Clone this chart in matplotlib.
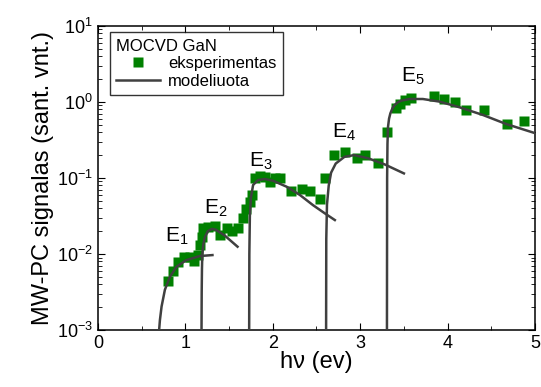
import matplotlib
matplotlib.use("Agg")
import matplotlib.pyplot as plt

plt.rcParams["font.family"] = ["Liberation Sans", "DejaVu Sans"]
plt.rcParams["mathtext.default"] = "regular"

# experimental points (eV, signal)
exp_x = [0.803, 0.861, 0.918, 0.986, 1.051, 1.10, 1.146, 1.166, 1.185, 1.203, 1.261, 1.337,
         1.394, 1.471, 1.528, 1.603, 1.654, 1.691, 1.737, 1.757, 1.80, 1.851, 1.909, 1.966,
         2.023, 2.088, 2.214, 2.339, 2.431, 2.537, 2.60, 2.70, 2.823, 2.963, 3.059, 3.203,
         3.306, 3.414, 3.459, 3.509, 3.585, 3.84, 3.954, 4.08, 4.206, 4.415, 4.682, 4.869]
exp_y = [0.00446, 0.0060, 0.0079, 0.00904, 0.0092, 0.0081, 0.0098, 0.0132, 0.017, 0.0219,
         0.0229, 0.0234, 0.0178, 0.0219, 0.0204, 0.0219, 0.0295, 0.0389, 0.049, 0.0603,
         0.100, 0.105, 0.102, 0.089, 0.100, 0.100, 0.0676, 0.0724, 0.0676, 0.0537,
         0.100, 0.20, 0.219, 0.186, 0.20, 0.158,
         0.407, 0.832, 0.933, 1.047, 1.122, 1.202, 1.096, 1.0, 0.776, 0.776, 0.513, 0.562]

# model curves
m1_x = [0.70, 0.709, 0.728, 0.766, 0.823, 0.899, 1.01, 1.166, 1.31]
m1_y = [0.001, 0.00135, 0.00204, 0.00339, 0.00501, 0.00681, 0.00832, 0.00942, 0.0097]
m2_x = [1.185, 1.187, 1.19, 1.194, 1.205, 1.223, 1.257, 1.303, 1.349, 1.451, 1.597]
m2_y = [0.001, 0.00316, 0.0063, 0.0098, 0.0132, 0.0166, 0.020, 0.0214, 0.0209, 0.0175, 0.0125]
m3_x = [1.73, 1.732, 1.738, 1.749, 1.775, 1.83, 1.909, 2.003, 2.157, 2.309, 2.46, 2.594, 2.71]
m3_y = [0.001, 0.01, 0.0316, 0.054, 0.081, 0.094, 0.097, 0.092, 0.077, 0.060, 0.044, 0.0344, 0.028]
m4_x = [2.61, 2.612, 2.62, 2.64, 2.667, 2.72, 2.82, 2.93, 3.09, 3.28, 3.50]
m4_y = [0.001, 0.0158, 0.0447, 0.0794, 0.1175, 0.155, 0.19, 0.20, 0.182, 0.151, 0.115]
m5_x = [3.306, 3.308, 3.312, 3.318, 3.33, 3.345, 3.37, 3.394, 3.43, 3.47, 3.566, 3.717,
        3.909, 4.137, 4.403, 4.67, 5.0]
m5_y = [0.001, 0.1, 0.282, 0.468, 0.603, 0.708, 0.832, 0.912, 0.989, 1.04, 1.094, 1.094,
        1.01, 0.851, 0.675, 0.513, 0.389]

labels = ["E$_1$", "E$_2$", "E$_3$", "E$_4$", "E$_5$"]
label_x = [0.897, 1.349, 1.863, 2.817, 3.606]
label_y = [0.0173, 0.0403, 0.1675, 0.403, 2.2]

fig = plt.figure(figsize=(5.41, 3.87), dpi=100)
ax = fig.add_axes([0.181, 0.147, 0.808, 0.786])

line_col = "#404040"
first = True
for mx, my in [(m1_x, m1_y), (m2_x, m2_y), (m3_x, m3_y), (m4_x, m4_y), (m5_x, m5_y)]:
    ax.plot(mx, my, color=line_col, lw=1.8, label="modeliuota" if first else None, zorder=3)
    first = False
ax.plot(exp_x, exp_y, "s", color="#008000", ms=7, mec="none", label="eksperimentas", zorder=2)

for t, x, y in zip(labels, label_x, label_y):
    ax.text(x, y, t, fontsize=15, ha="center", va="center")

ax.set_yscale("log")
ax.set_xlim(0, 5)
ax.set_ylim(1e-3, 10)
ax.set_xticks([0, 1, 2, 3, 4, 5])
ax.set_xticks([0.5, 1.5, 2.5, 3.5, 4.5], minor=True)
ax.tick_params(which="both", direction="in", top=True, right=True, labelsize=13)
ax.tick_params(which="major", length=5)
ax.tick_params(which="minor", length=3)
for s in ax.spines.values():
    s.set_linewidth(1.1)
ax.set_xlabel("h\u03bd (ev)", fontsize=17, labelpad=-1)
ax.set_ylabel("MW-PC signalas (sant. vnt.)", fontsize=17, labelpad=2)

h, l = ax.get_legend_handles_labels()
leg = ax.legend(h[::-1], l[::-1], title="MOCVD GaN", loc="upper left",
                bbox_to_anchor=(0.027, 0.98), borderaxespad=0, fancybox=False,
                edgecolor="black", fontsize=12, title_fontsize=12, numpoints=1,
                handlelength=2.6, handletextpad=0.5, borderpad=0.4, labelspacing=0.15)
leg._legend_box.align = "left"
leg.get_frame().set_linewidth(1.0)

fig.savefig("out.png", dpi=100)
